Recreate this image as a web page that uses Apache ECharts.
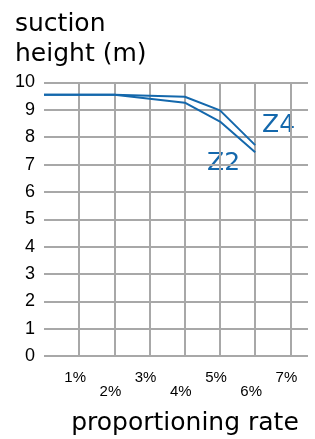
<!DOCTYPE html>
<html>
<head>
<meta charset="utf-8">
<script src="https://cdn.jsdelivr.net/npm/echarts@6/dist/echarts.min.js"></script>
<style>
html,body{margin:0;padding:0;background:#fff;}
#chart{width:315px;height:439px;}
</style>
</head>
<body>
<div id="chart"></div>
<script>
// data
const rates = [0, 2, 4, 5, 6];            // proportioning rate (%)
const z4 = [9.55, 9.55, 9.48, 8.98, 7.71]; // suction height (m) Z4
const z2 = [9.55, 9.55, 9.26, 8.57, 7.45]; // suction height (m) Z2
const xTicks = [1, 2, 3, 4, 5, 6, 7];
const yTicks = [0, 1, 2, 3, 4, 5, 6, 7, 8, 9, 10];
const seriesNames = ['Z4', 'Z2'];
const yTitle = 'suction\nheight (m)';
const xTitle = 'proportioning rate';

const blue = '#1468ac';
const gridGray = '#a8a8a8';

const chart = echarts.init(document.getElementById('chart'), null, {renderer: 'canvas'});
chart.setOption({
  animation: false,
  backgroundColor: '#ffffff',
  grid: {left: 44, right: 0, top: 82.5, bottom: 83, containLabel: false},
  xAxis: {
    type: 'value', min: 0, max: 7.5, interval: 1,
    axisLine: {show: false}, axisTick: {show: false},
    splitLine: {show: true, showMinLine: false, showMaxLine: false, lineStyle: {color: gridGray, width: 2}},
    axisLabel: {
      margin: 15, fontFamily: 'Liberation Sans', fontSize: 15, color: '#000', lineHeight: 14,
      padding: [0, 8, 0, 0],
      formatter: function (v) {
        if (xTicks.indexOf(v) < 0) return '';
        return (v % 2 === 0 ? '\n' : '') + v + '%';
      }
    }
  },
  yAxis: {
    type: 'value', min: 0, max: 10, interval: 1,
    axisLine: {show: false}, axisTick: {show: false},
    splitLine: {show: true, lineStyle: {color: gridGray, width: 2}},
    axisLabel: {
      margin: 9, fontFamily: 'Liberation Sans', fontSize: 18, color: '#000',
      formatter: function (v) { return yTicks.indexOf(v) >= 0 ? String(v) : ''; }
    }
  },
  graphic: [
    {type: 'text', left: 15, top: 9, style: {text: yTitle, font: '25px "DejaVu Sans"', lineHeight: 30, fill: '#000'}},
    {type: 'text', x: 185, y: 423, style: {text: xTitle, font: '25px "DejaVu Sans"', fill: '#000', align: 'center', verticalAlign: 'middle'}},
    {type: 'text', x: 262, y: 125, style: {text: seriesNames[0], font: '25px "DejaVu Sans"', fill: blue, verticalAlign: 'middle'}},
    {type: 'text', x: 207, y: 163, style: {text: seriesNames[1], font: '25px "DejaVu Sans"', fill: blue, verticalAlign: 'middle'}}
  ],
  series: [
    {name: seriesNames[0], type: 'line', showSymbol: false, data: rates.map((r, i) => [r, z4[i]]), lineStyle: {color: blue, width: 2}, itemStyle: {color: blue}},
    {name: seriesNames[1], type: 'line', showSymbol: false, data: rates.map((r, i) => [r, z2[i]]), lineStyle: {color: blue, width: 2}, itemStyle: {color: blue}}
  ]
});
</script>
</body>
</html>
